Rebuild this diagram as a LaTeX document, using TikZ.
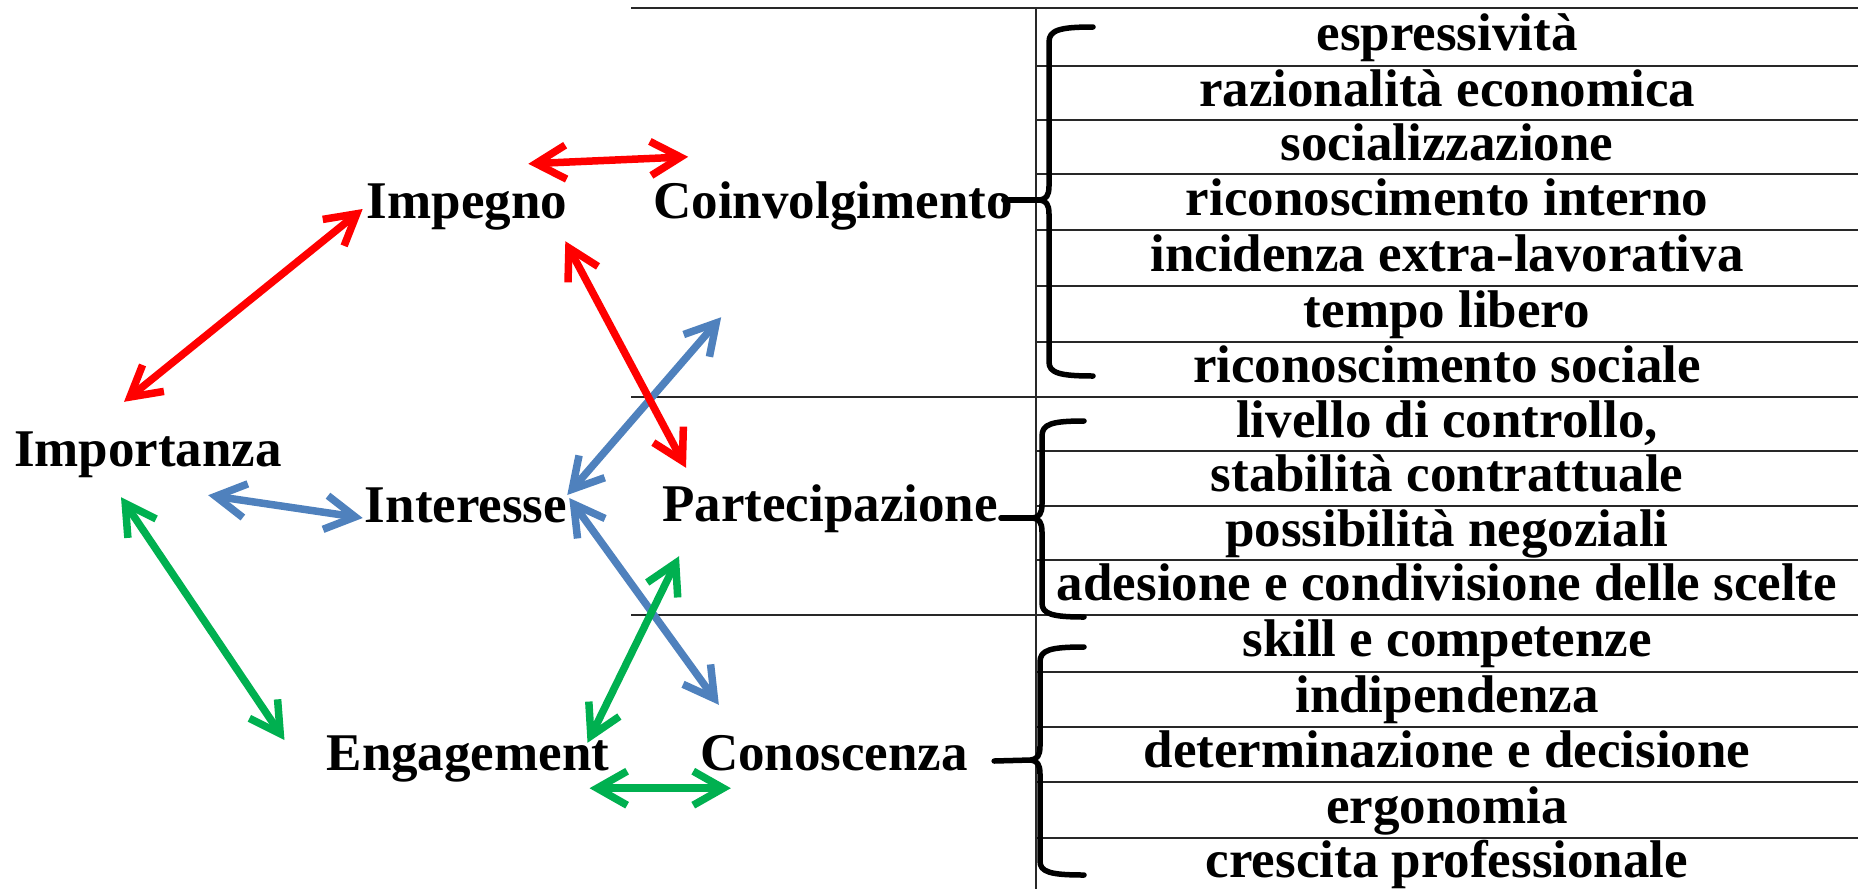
\documentclass[tikz,border=0pt]{standalone}
\usepackage{fontspec}
\setmainfont{Liberation Serif}
\usetikzlibrary{arrows.meta,calc}

\begin{document}
\begin{tikzpicture}[x=1pt,y=1pt,yscale=-1,xscale=1,
    lbl/.style={anchor=base,inner sep=0pt,text height=36pt,text depth=12pt,font=\fontsize{53}{60}\selectfont\bfseries},
    cell/.style={anchor=base,inner sep=0pt,font=\fontsize{53}{60}\selectfont\bfseries},
    rule/.style={line width=2.2pt,color={rgb, 255:red, 40; green, 40; blue, 40 }},
    brace/.style={line width=5.5pt,line cap=round,line join=round},
    dblarr/.style={line width=7.5pt,{Straight Barb[length=30pt,width=34pt]}-{Straight Barb[length=30pt,width=34pt]}},
    redarr/.style={dblarr,color={rgb, 255:red, 255; green, 0; blue, 0 }},
    bluearr/.style={dblarr,color={rgb, 255:red, 79; green, 129; blue, 189 }},
    greenarr/.style={dblarr,color={rgb, 255:red, 0; green, 176; blue, 80 }}]
  \useasboundingbox (0,0) rectangle (1858,889);

  %Table: outer lines
  \draw [rule] (631,8) -- (1858,8) ;
  \draw [rule] (631,397) -- (1858,397) ;
  \draw [rule] (631,615) -- (1858,615) ;
  \draw [rule] (1036,8) -- (1036,889) ;
  %Table: row lines
  \draw [rule] (1036,66) -- (1858,66) ;
  \draw [rule] (1036,120) -- (1858,120) ;
  \draw [rule] (1036,174) -- (1858,174) ;
  \draw [rule] (1036,230) -- (1858,230) ;
  \draw [rule] (1036,286) -- (1858,286) ;
  \draw [rule] (1036,342) -- (1858,342) ;
  \draw [rule] (1036,451) -- (1858,451) ;
  \draw [rule] (1036,506) -- (1858,506) ;
  \draw [rule] (1036,560) -- (1858,560) ;
  \draw [rule] (1036,672) -- (1858,672) ;
  \draw [rule] (1036,727) -- (1858,727) ;
  \draw [rule] (1036,782) -- (1858,782) ;
  \draw [rule] (1036,838) -- (1858,838) ;

  % Text Node
  \node [cell] (c1) at (1447,50) {espressività};
  \node [cell] (c2) at (1447,106) {razionalità economica};
  \node [cell] (c3) at (1447,160) {socializzazione};
  \node [cell] (c4) at (1447,215) {riconoscimento interno};
  \node [cell] (c5) at (1447,271) {incidenza extra-lavorativa};
  \node [cell] (c6) at (1447,327) {tempo libero};
  \node [cell] (c7) at (1447,382) {riconoscimento sociale};
  % Text Node
  \node [cell] (p1) at (1447,437) {livello di controllo,};
  \node [cell] (p2) at (1447,491) {stabilità contrattuale};
  \node [cell] (p3) at (1447,546) {possibilità negoziali};
  \node [cell] (p4) at (1447,600) {adesione e condivisione delle scelte};
  % Text Node
  \node [cell] (k1) at (1447,656) {skill e competenze};
  \node [cell] (k2) at (1447,712) {indipendenza};
  \node [cell] (k3) at (1447,767) {determinazione e decisione};
  \node [cell] (k4) at (1447,823) {ergonomia};
  \node [cell] (k5) at (1447,877) {crescita professionale};

  % Text Node
  \node [lbl] (imz) at (148,466) {Importanza};
  \node [lbl] (imp) at (467,218) {Impegno};
  \node [lbl] (coi) at (833,218) {Coinvolgimento};
  \node [lbl] (int) at (466,522) {Interesse};
  \node [lbl] (par) at (830,521) {Partecipazione};
  \node [lbl] (eng) at (468,770) {Engagement};
  \node [lbl] (con) at (834,770) {Conoscenza};

  %Shape: Brace
  \draw [brace] (1093,27) .. controls (1060,27) and (1049,30) .. (1049,42) -- (1049,186) .. controls (1049,196) and (1046,199) .. (1040,200) .. controls (1046,201) and (1049,204) .. (1049,214) -- (1049,362) .. controls (1049,373) and (1060,376) .. (1093,376) ;
  \draw [brace] ($(coi.east)+(-9,-6)$) -- (1040,200) ;
  %Shape: Brace
  \draw [brace] (1084,421) .. controls (1052,421) and (1042,424) .. (1042,436) -- (1042,504) .. controls (1042,514) and (1039,517) .. (1033,518) .. controls (1039,519) and (1042,522) .. (1042,532) -- (1042,603) .. controls (1042,614) and (1052,617) .. (1084,617) ;
  \draw [brace] ($(par.east)+(3,9)$) -- (1033,518) ;
  %Shape: Brace
  \draw [brace] (1084,647) .. controls (1050,647) and (1040,650) .. (1040,662) -- (1040,746) .. controls (1040,756) and (1037,759) .. (1031,760) .. controls (1037,761) and (1040,764) .. (1040,774) -- (1040,861) .. controls (1040,872) and (1050,875) .. (1084,875) ;
  \draw [brace] ($(con.east)+(26,3)$) -- (1031,760) ;

  %Straight Lines
  \draw [bluearr] ($(imz.south east)+(-74,17)$) -- ($(int.west)+(-2,8)$) ;
  \draw [bluearr] ($(int.east)+(0,-15)$) -- ($(coi.south west)+(68,87)$) ;
  \draw [bluearr] ($(int.east)+(2,-12)$) -- ($(con.north west)+(19,-29)$) ;
  %Straight Lines
  \draw [greenarr] ($(imz.south)+(-27,19)$) -- ($(eng.west)+(-42,-18)$) ;
  \draw [greenarr] ($(par.south west)+(17,23)$) -- ($(eng.north east)+(-22,9)$) ;
  \draw [greenarr] ($(eng.south east)+(-20,6)$) -- ($(con.south west)+(31,6)$) ;
  %Straight Lines
  \draw [redarr] ($(imz.north)+(-24,-28)$) -- ($(imp.west)+(-4,3)$) ;
  \draw [redarr] ($(imp.north east)+(-39,-18)$) -- ($(coi.north west)+(35,-25)$) ;
  \draw [redarr] ($(imp.south east)+(-2,11)$) -- ($(par.north west)+(24,-17)$) ;

\end{tikzpicture}
\end{document}
